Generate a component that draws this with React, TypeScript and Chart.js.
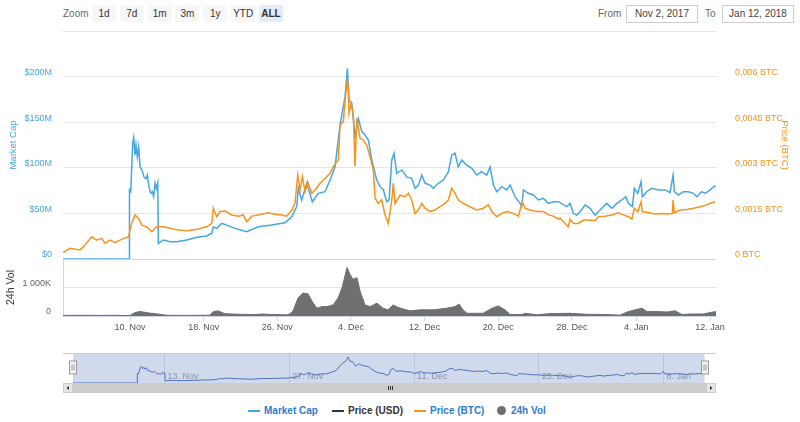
import React, { useEffect, useRef } from 'react';
import { Chart, registerables } from 'chart.js';

Chart.register(...registerables);

const FONT = '"Liberation Sans", Arial, Helvetica, sans-serif';
const BLUE = '#45a7e2';
const ORANGE = '#f7931a';
const VOL = '#707070';
const LEGEND_BLUE = '#2f7ccf';
const NAV_LINE = '#4a72c0';

// x values: days since 2 Nov 2017 00:00
const capDays = [
  0.72, 7.92, 7.94, 8.08, 8.29, 8.4, 8.54, 8.65, 8.79, 8.94, 9.09, 9.3, 9.52, 9.74, 9.88, 10.06,
  10.25, 10.42, 10.57, 10.72, 10.86, 11.01, 11.08,
  11.62, 12.35, 13.07, 14.16, 15.25, 16.33, 16.88, 17.05, 17.42, 17.96, 18.32, 19.41, 20.68, 21.94,
  23.39, 24.84, 25.57, 26.11, 26.28, 26.65, 27.19, 27.8, 28.45, 29.18, 29.73, 30.27, 30.81, 31.36,
  31.61, 31.79, 32.09, 32.44, 32.8, 33.17, 33.53, 33.89, 34.26, 34.8, 35.16, 35.52, 35.89, 36.14,
  36.43, 36.68, 36.97, 37.52, 38.06, 38.6, 38.96, 39.32, 39.69, 40.05, 40.59, 40.95, 41.49, 42.03,
  42.58, 42.95, 43.3, 43.66, 44.03, 44.58, 45.12, 45.66, 46.2, 46.75, 47.11, 47.47, 47.84, 48.38,
  48.92, 49.28, 49.82, 50.37, 50.55, 50.73, 51.27, 51.81, 52.36, 52.9, 53.44, 53.98, 54.53, 55.43,
  55.8, 56.16, 56.52, 56.88, 57.43, 57.97, 58.51, 59.06, 59.78, 60.33, 60.87, 61.41, 61.85, 62.13,
  62.57, 62.78, 63.15, 63.51, 63.65, 64.13, 64.67, 65.39, 66.12, 66.66, 66.99, 67.13, 67.56, 68.11,
  68.65, 69.19, 69.56, 70.1, 70.46, 71.01, 71.47, 71.6,
];
// Market cap, millions of USD
const marketCapM = [
  0, 0, 75.7, 73.8, 126.9, 133.4, 114, 125, 112, 123, 101, 97.6, 90, 88, 92, 79.3,
  72, 73.8, 68.3, 83, 77.5, 83.6, 17.2,
  20.8, 19, 19, 20.8, 23.8, 25.2, 28.2, 35.4, 33.6, 39, 38, 33.6, 30, 35.4,
  37.3, 39.8, 46.4, 57.4, 77.5, 64.7, 83, 62.8, 72, 73.8, 86.6, 101, 147, 178,
  209, 174, 171, 134, 154, 140, 136, 130.5, 108.6, 86.6, 79.3, 75.7, 62.8, 64.7,
  108.6, 116, 94, 97.6, 90, 88.5, 77.5, 81, 92, 83, 81, 77.5, 83, 86.6,
  95.7, 114, 116, 101, 108.6, 103, 99.5, 92, 95.7, 92, 101, 81, 73.8, 79.3,
  75.7, 81, 68.3, 61, 57.4, 75.7, 72, 70.2, 64.7, 66.5, 61, 62.8, 62.8, 57.4,
  61, 50.1, 48.2, 51.9, 59.2, 55.6, 48.2, 53.7, 61, 55.6, 61, 64.7, 68.3, 61,
  57.4, 77.5, 72, 84.8, 68.3, 73.8, 77.5, 75.7, 75.7, 72.7, 92, 73.8, 70.2, 73.8,
  73.8, 72, 68.3, 73.8, 72, 75.7, 80, 79,
];

const btcDays = [
  0.72, 1.48, 2.57, 3.11, 3.84, 4.38, 4.93, 5.28, 5.83, 6.37, 6.91, 7.82, 8.18, 8.54, 8.9, 9.27,
  9.81, 10.36, 10.9, 11.62, 12.35, 13.25, 14.16, 15.25, 16.33, 16.88, 17.05, 17.42, 17.78, 18.32,
  19.05, 19.76, 20.31, 20.68, 21.22, 21.94, 23.02, 23.75, 24.48, 25.02, 25.57, 25.92, 26.22, 26.47,
  26.72, 27.01, 27.3, 27.74, 28.1, 28.64, 29.18, 29.73, 30.08, 30.63, 30.81, 31.17, 31.43, 31.65,
  31.79, 32.01, 32.26, 32.44, 32.63, 32.99, 33.34, 33.71, 34.07, 34.43, 34.61, 34.97, 35.34, 35.7,
  36.06, 36.43, 36.6, 36.79, 37.33, 37.87, 38.23, 38.6, 38.96, 39.32, 39.69, 40.05, 40.59, 41.13,
  41.68, 42.22, 42.58, 42.95, 43.3, 43.66, 44.21, 44.93, 45.66, 46.38, 46.92, 47.29, 47.84, 48.38,
  48.92, 49.64, 50.18, 50.62, 50.91, 51.45, 52.18, 52.9, 53.44, 53.98, 54.53, 54.71, 55.25, 55.61,
  55.8, 56.16, 56.7, 57.24, 57.79, 58.51, 58.87, 59.6, 60.33, 61.04, 61.59, 62.13, 62.5, 62.78,
  63.15, 63.51, 63.65, 64.3, 65.03, 65.76, 66.48, 66.91, 66.99, 67.13, 67.75, 68.47, 69.19, 69.92,
  70.65, 71.19, 71.55,
];
// Price in BTC
const btcPrice = [
  0.00021, 0.00035, 0.0003, 0.00046, 0.00073, 0.00062, 0.00068, 0.00052, 0.00062, 0.00054, 0.00062, 0.00073, 0.00117, 0.00145, 0.00134, 0.00112,
  0.00106, 0.0009, 0.00106, 0.00106, 0.00101, 0.00095, 0.00093, 0.00098, 0.00106, 0.00117, 0.00167, 0.00139, 0.00156, 0.00158,
  0.00145, 0.00141, 0.00145, 0.00123, 0.00141, 0.00145, 0.00152, 0.00147, 0.00145, 0.00141, 0.00161, 0.00183, 0.00276, 0.00227,
  0.00271, 0.00221, 0.00254, 0.00216, 0.00227, 0.00249, 0.00265, 0.00282, 0.00304, 0.00326, 0.00441, 0.00452, 0.00545, 0.00594,
  0.00479, 0.00512, 0.00474, 0.00304, 0.00463, 0.00397, 0.00391, 0.00375, 0.00337, 0.00293, 0.002, 0.00183, 0.00194, 0.00145,
  0.00117, 0.00194, 0.00249, 0.00183, 0.0021, 0.00205, 0.00216, 0.00194, 0.0015, 0.00161, 0.00183, 0.00167, 0.00156, 0.00161,
  0.00172, 0.00183, 0.00194, 0.00233, 0.00216, 0.00194, 0.00183, 0.00172, 0.00161, 0.00167, 0.00178, 0.00156, 0.00139, 0.0015,
  0.00156, 0.0015, 0.00141, 0.00188, 0.00167, 0.00161, 0.00156, 0.00156, 0.00145, 0.00141, 0.00131, 0.00134, 0.00117, 0.00106,
  0.00131, 0.00117, 0.00117, 0.00128, 0.00128, 0.00126, 0.00139, 0.00141, 0.00145, 0.00152, 0.00145, 0.00139, 0.00131, 0.00167,
  0.00156, 0.00188, 0.00156, 0.00152, 0.00148, 0.0015, 0.00148, 0.0015, 0.00194, 0.00152, 0.00161, 0.00163, 0.00167, 0.00172,
  0.00178, 0.00185, 0.00188,
];

const volDays = [
  0.72, 2.57, 4.74, 6.37, 7.46, 8.0, 8.54, 9.09, 9.96, 10.72, 11.26, 12.02, 13.97, 15.6, 16.69, 17.02,
  17.56, 18.32, 19.95, 21.58, 22.45, 23.21, 25.06, 25.38, 25.71, 26.25, 26.79, 27.34, 27.77, 28.31,
  28.86, 29.4, 30.05, 30.6, 31.03, 31.57, 31.9, 32.22, 32.66, 32.99, 33.53, 34.07, 34.83, 35.48,
  36.03, 36.57, 37.11, 38.42, 39.51, 40.92, 42.44, 43.3, 43.74, 44.17, 44.61, 46.35, 47.33, 47.98,
  48.74, 49.28, 50.58, 50.91, 52.21, 53.62, 55.8, 57.64, 59.82, 61.23, 61.99, 62.86, 63.62, 64.16,
  65.25, 66.33, 67.2, 67.96, 68.83, 70.24, 71.32, 71.65,
];
// 24h volume, thousands of USD
const volK = [
  20, 25, 20, 25, 15, 20, 120, 160, 110, 80, 60, 25, 20, 25, 30, 150,
  180, 80, 60, 50, 70, 55, 40, 80, 180, 630, 810, 775, 520, 275,
  330, 330, 390, 630, 990, 1700, 1460, 1290, 1340, 870, 390, 330, 450, 275,
  215, 390, 300, 180, 215, 215, 275, 330, 420, 215, 95, 95, 275, 355,
  215, 50, 50, 95, 40, 85, 95, 60, 50, 30, 140, 215, 275, 155,
  155, 140, 180, 50, 70, 70, 140, 150,
];

const xRange = [0.72, 71.65];
const navRange = [-0.4, 72.88];
const xTickDays = [8, 16, 24, 32, 40, 48, 56, 63, 71];
const xTickLabels = ['10. Nov', '18. Nov', '26. Nov', '4. Dec', '12. Dec', '20. Dec', '28. Dec', '4. Jan', '12. Jan'];
const navTickDays = [11, 25, 39, 53, 67];
const navTickLabels = ['13. Nov', '27. Nov', '11. Dec', '25. Dec', '8. Jan'];
const capTickValues = [0, 50, 100, 150, 200, 250];
const capTickLabels = ['$0', '$50M', '$100M', '$150M', '$200M', ''];
const btcTickValues = [0, 0.0015, 0.003, 0.0045, 0.006, 0.0075];
const btcTickLabels = ['0 BTC', '0,0015 BTC', '0,003 BTC', '0,0045 BTC', '0,006 BTC', ''];
const volTickValues = [0, 1000, 2000];
const volTickLabels = ['0', '1 000K', ''];
const zoomButtons = ['1d', '7d', '1m', '3m', '1y', 'YTD', 'ALL'];

const setTicks = (values: number[]) => (scale: any) => {
  scale.ticks = values.map((v) => ({ value: v }));
};
const labelFor = (values: number[], labels: string[]) => (v: any) => {
  const i = values.findIndex((t) => Math.abs(t - Number(v)) < 1e-9);
  return i >= 0 ? labels[i] : '';
};

const navPlugin = {
  id: 'navDecor',
  beforeDatasetsDraw(chart: any) {
    const { ctx, chartArea: a, scales } = chart;
    const l = scales.x.getPixelForValue(capDays[0]);
    const r = scales.x.getPixelForValue(capDays[capDays.length - 1]);
    ctx.save();
    ctx.fillStyle = '#999999';
    ctx.font = `9px ${FONT}`;
    ctx.textAlign = 'left';
    ctx.textBaseline = 'middle';
    navTickDays.forEach((d, i) => {
      ctx.fillText(navTickLabels[i], scales.x.getPixelForValue(d) + 3, a.bottom - 6);
    });
    ctx.fillStyle = 'rgba(102,133,194,0.3)';
    ctx.fillRect(l, a.top, r - l, a.bottom - a.top);
    ctx.restore();
  },
  afterDraw(chart: any) {
    const { ctx, chartArea: a, scales } = chart;
    const l = scales.x.getPixelForValue(capDays[0]);
    const r = scales.x.getPixelForValue(capDays[capDays.length - 1]);
    ctx.save();
    ctx.strokeStyle = '#cccccc';
    ctx.lineWidth = 1;
    ctx.beginPath();
    ctx.moveTo(a.left, a.top + 0.5);
    ctx.lineTo(a.right, a.top + 0.5);
    ctx.stroke();
    const mid = (a.top + a.bottom) / 2;
    [l, r].forEach((hx) => {
      const x0 = Math.round(hx) - 3.5;
      ctx.fillStyle = '#f2f2f2';
      ctx.strokeStyle = '#999999';
      ctx.fillRect(x0, mid - 7, 7, 13);
      ctx.strokeRect(x0, mid - 7, 7, 13);
      ctx.beginPath();
      ctx.moveTo(x0 + 2.5, mid - 3.5);
      ctx.lineTo(x0 + 2.5, mid + 2.5);
      ctx.moveTo(x0 + 4.5, mid - 3.5);
      ctx.lineTo(x0 + 4.5, mid + 2.5);
      ctx.stroke();
    });
    const sy = a.bottom;
    const sh = 10;
    ctx.fillStyle = '#f2f2f2';
    ctx.fillRect(a.left, sy, a.right - a.left, sh);
    ctx.fillStyle = '#cccccc';
    ctx.fillRect(a.left + 10, sy, a.right - a.left - 20, sh);
    [a.left, a.right - 10].forEach((bx, i) => {
      ctx.fillStyle = '#e6e6e6';
      ctx.fillRect(bx, sy, 10, sh);
      ctx.strokeStyle = '#cccccc';
      ctx.strokeRect(bx + 0.5, sy + 0.5, 9, sh - 1);
      ctx.fillStyle = '#333333';
      ctx.beginPath();
      if (i === 0) {
        ctx.moveTo(bx + 3.5, sy + 5);
        ctx.lineTo(bx + 6, sy + 3);
        ctx.lineTo(bx + 6, sy + 7);
      } else {
        ctx.moveTo(bx + 6.5, sy + 5);
        ctx.lineTo(bx + 4, sy + 3);
        ctx.lineTo(bx + 4, sy + 7);
      }
      ctx.closePath();
      ctx.fill();
    });
    const cx = Math.round((a.left + a.right) / 2);
    ctx.strokeStyle = '#333333';
    ctx.beginPath();
    [-2, 0, 2].forEach((d) => {
      ctx.moveTo(cx + d + 0.5, sy + 3);
      ctx.lineTo(cx + d + 0.5, sy + 7);
    });
    ctx.stroke();
    ctx.restore();
  },
};

export default function App() {
  const mainRef = useRef<HTMLCanvasElement>(null);
  const navRef = useRef<HTMLCanvasElement>(null);

  useEffect(() => {
    const capData = capDays.map((d, i) => ({ x: d, y: marketCapM[i] }));
    const btcData = btcDays.map((d, i) => ({ x: d, y: btcPrice[i] }));
    const volData = volDays.map((d, i) => ({ x: d, y: volK[i] }));
    const tickFont = { family: FONT, size: 9 };

    const main = new Chart(mainRef.current as HTMLCanvasElement, {
      type: 'line',
      data: {
        datasets: [
          { label: 'Price (BTC)', data: btcData, yAxisID: 'yBTC', borderColor: ORANGE, borderWidth: 1.5, pointRadius: 0, order: 1 } as any,
          { label: 'Market Cap', data: capData, yAxisID: 'yMC', borderColor: BLUE, borderWidth: 1.5, pointRadius: 0, order: 2 } as any,
          { label: '24h Vol', data: volData, yAxisID: 'yVol', borderColor: VOL, backgroundColor: VOL, fill: 'origin', borderWidth: 1, pointRadius: 0, order: 3 } as any,
        ],
      },
      options: {
        responsive: false,
        animation: false,
        events: [],
        layout: { padding: { top: 31, left: 0, right: 0, bottom: 0 } },
        plugins: { legend: { display: false }, tooltip: { enabled: false } },
        scales: {
          x: {
            type: 'linear',
            position: 'bottom',
            min: xRange[0],
            max: xRange[1],
            afterBuildTicks: setTicks(xTickDays),
            afterFit: (s: any) => { s.height = 24; },
            grid: { display: true, drawOnChartArea: false, drawTicks: true, tickLength: 5, color: '#ccd6eb' },
            border: { display: true, color: '#ccd6eb' },
            ticks: { callback: labelFor(xTickDays, xTickLabels), color: '#555555', font: tickFont, padding: 1, maxRotation: 0, autoSkip: false },
          },
          yVol: {
            type: 'linear',
            position: 'left',
            stack: 'l',
            stackWeight: 1,
            min: 0,
            max: 2000,
            afterBuildTicks: setTicks(volTickValues),
            afterFit: (s: any) => { s.width = 63; },
            grid: { color: (c: any) => (c.tick && c.tick.value === 1000 ? '#e6e6e6' : 'rgba(0,0,0,0)'), drawTicks: false },
            border: { display: true, color: '#ccd6eb' },
            ticks: { callback: labelFor(volTickValues, volTickLabels), color: '#666666', font: tickFont, padding: 12, labelOffset: -4 },
            title: { display: true, text: '24h Vol', color: '#333333', font: { family: FONT, size: 10.5 }, padding: { top: 5, bottom: 0 } },
          },
          yMC: {
            type: 'linear',
            position: 'left',
            stack: 'l',
            stackWeight: 4,
            min: 0,
            max: 250,
            afterBuildTicks: setTicks(capTickValues),
            afterFit: (s: any) => { s.width = 63; },
            grid: { color: (c: any) => (c.tick && c.tick.value === 0 ? '#d8d8d8' : '#e6e6e6'), drawTicks: false },
            border: { display: false },
            ticks: { callback: labelFor(capTickValues, capTickLabels), color: BLUE, font: tickFont, padding: 11, labelOffset: -4 },
            title: { display: true, text: 'Market Cap', color: BLUE, font: { family: FONT, size: 9.5 }, padding: { top: 8, bottom: 0 } },
          },
          yBTC: {
            type: 'linear',
            position: 'right',
            stack: 'r',
            stackWeight: 4,
            min: 0,
            max: 0.0075,
            afterBuildTicks: setTicks(btcTickValues),
            afterFit: (s: any) => { s.width = 84; },
            grid: { display: false },
            border: { display: false },
            ticks: { callback: labelFor(btcTickValues, btcTickLabels), color: ORANGE, font: tickFont, padding: 11, labelOffset: -4 },
            title: { display: true, text: 'Price (BTC)', color: ORANGE, font: { family: FONT, size: 9.5 }, padding: { top: 10, bottom: 0 } },
          },
          yR2: {
            type: 'linear',
            position: 'right',
            stack: 'r',
            stackWeight: 1,
            min: 0,
            max: 1,
            afterFit: (s: any) => { s.width = 84; },
            grid: { display: false },
            border: { display: false },
            ticks: { display: false },
          },
        } as any,
      },
    });

    const nav = new Chart(navRef.current as HTMLCanvasElement, {
      type: 'line',
      data: {
        datasets: [
          { label: 'Market Cap', data: capData, borderColor: NAV_LINE, borderWidth: 1, pointRadius: 0 } as any,
        ],
      },
      options: {
        responsive: false,
        animation: false,
        events: [],
        layout: { padding: { top: 13, left: 63, right: 84, bottom: 0 } },
        plugins: { legend: { display: false }, tooltip: { enabled: false } },
        scales: {
          x: {
            type: 'linear',
            min: navRange[0],
            max: navRange[1],
            afterBuildTicks: setTicks(navTickDays),
            afterFit: (s: any) => { s.height = 17; },
            grid: { display: true, drawOnChartArea: true, drawTicks: false, color: '#e0e0e0' },
            border: { display: false },
            ticks: { display: false },
          },
          y: { display: false, min: 0, max: 240 },
        } as any,
      },
      plugins: [navPlugin],
    });

    return () => {
      main.destroy();
      nav.destroy();
    };
  }, []);

  const legend = [
    { marker: 'line', color: BLUE, text: 'Market Cap', textColor: LEGEND_BLUE, mx: 248, tx: 264 },
    { marker: 'line', color: '#333333', text: 'Price (USD)', textColor: '#333333', mx: 332, tx: 348 },
    { marker: 'line', color: ORANGE, text: 'Price (BTC)', textColor: LEGEND_BLUE, mx: 414, tx: 430 },
    { marker: 'dot', color: '#707070', text: '24h Vol', textColor: LEGEND_BLUE, mx: 497, tx: 511 },
  ];

  return (
    <div style={{ position: 'absolute', left: 0, top: 0, width: 800, height: 422, background: '#ffffff', overflow: 'hidden', fontFamily: FONT }}>
      <div style={{ position: 'absolute', left: 63, top: 7, fontSize: 10, lineHeight: '14px', color: '#666666' }}>Zoom</div>
      {zoomButtons.map((b, i) => (
        <div
          key={b}
          style={{
            position: 'absolute', left: 92 + i * 27.83, top: 5, width: 24, height: 17, borderRadius: 2,
            background: b === 'ALL' ? '#e6ebf5' : '#f7f7f7', color: '#333333', fontSize: 10, lineHeight: '17px',
            textAlign: 'center', fontWeight: b === 'ALL' ? 'bold' : 'normal',
          }}
        >
          {b}
        </div>
      ))}
      <div style={{ position: 'absolute', left: 598, top: 7, fontSize: 10, lineHeight: '14px', color: '#666666' }}>From</div>
      <div style={{ position: 'absolute', left: 626, top: 5, width: 70, height: 16, border: '1px solid #cccccc', fontSize: 10, lineHeight: '16px', textAlign: 'center', color: '#444444' }}>Nov 2, 2017</div>
      <div style={{ position: 'absolute', left: 705, top: 7, fontSize: 10, lineHeight: '14px', color: '#666666' }}>To</div>
      <div style={{ position: 'absolute', left: 722, top: 5, width: 70, height: 16, border: '1px solid #cccccc', fontSize: 10, lineHeight: '16px', textAlign: 'center', color: '#444444' }}>Jan 12, 2018</div>

      <canvas ref={mainRef} width={800} height={340} style={{ position: 'absolute', left: 0, top: 0, width: 800, height: 340 }} />
      <canvas ref={navRef} width={800} height={60} style={{ position: 'absolute', left: 0, top: 340, width: 800, height: 60 }} />

      {legend.map((it) => (
        <React.Fragment key={it.text}>
          {it.marker === 'line' ? (
            <div style={{ position: 'absolute', left: it.mx, top: 410, width: 12, height: 2, background: it.color }} />
          ) : (
            <div style={{ position: 'absolute', left: it.mx, top: 406, width: 9, height: 9, borderRadius: '50%', background: it.color }} />
          )}
          <div style={{ position: 'absolute', left: it.tx, top: 405, fontSize: 10, lineHeight: '12px', fontWeight: 'bold', color: it.textColor, whiteSpace: 'nowrap' }}>{it.text}</div>
        </React.Fragment>
      ))}
    </div>
  );
}
